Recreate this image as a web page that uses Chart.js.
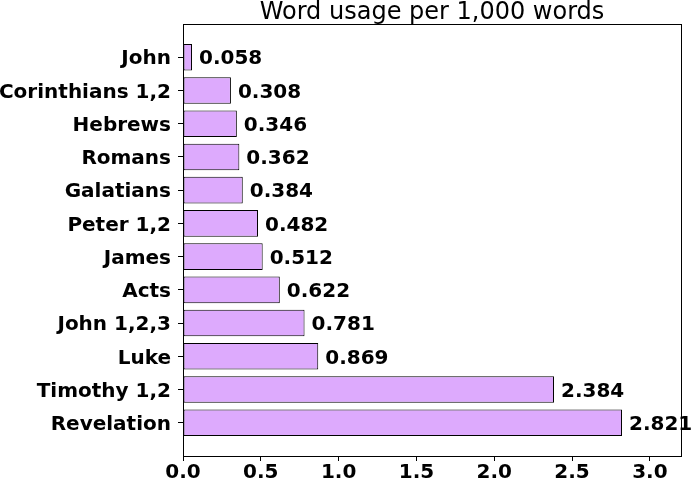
<!DOCTYPE html>
<html>
<head>
<meta charset="utf-8">
<script src="https://cdn.jsdelivr.net/npm/chart.js@4/dist/chart.umd.min.js"></script>
<style>
  html, body { margin: 0; padding: 0; background: #fff; }
</style>
</head>
<body>
<canvas id="usageChart" width="691" height="486"></canvas>
<script>
// books, top to bottom
var books = ['John', 'Corinthians 1,2', 'Hebrews', 'Romans', 'Galatians', 'Peter 1,2',
             'James', 'Acts', 'John 1,2,3', 'Luke', 'Timothy 1,2', 'Revelation'];
var usage = [0.058, 0.308, 0.346, 0.362, 0.384, 0.482, 0.512, 0.622, 0.781, 0.869, 2.384, 2.821];
var xTicks = [0.0, 0.5, 1.0, 1.5, 2.0, 2.5, 3.0];
var xMax = 3.2;

// blank rows above and below give a full row of space at each end
var rows = [''].concat(books, ['']);
var rowValues = [null].concat(usage, [null]);

var FONT = 'DejaVu Sans';

// frame around the plot, title over the plot, numbers at the bar ends
var extras = {
  id: 'extras',
  afterDatasetsDraw: function (chart) {
    var ctx = chart.ctx;
    var meta = chart.getDatasetMeta(0);
    ctx.save();
    ctx.font = 'bold 20px ' + FONT;
    ctx.fillStyle = '#000';
    ctx.textAlign = 'left';
    ctx.textBaseline = 'middle';
    meta.data.forEach(function (bar, i) {
      var v = rowValues[i];
      if (v === null) return;
      ctx.fillText(v.toFixed(3), bar.x + 7, bar.y + 2);
    });
    ctx.restore();
  },
  afterDraw: function (chart) {
    var ctx = chart.ctx;
    var area = chart.chartArea;
    ctx.save();
    ctx.strokeStyle = '#000';
    ctx.lineWidth = 1;
    ctx.strokeRect(Math.round(area.left) + 0.5, Math.round(area.top) + 0.5,
                   Math.round(area.right - area.left), Math.round(area.bottom - area.top));
    ctx.font = '24px ' + FONT;
    ctx.fillStyle = '#000';
    ctx.textAlign = 'center';
    ctx.textBaseline = 'alphabetic';
    ctx.fillText('Word usage per 1,000 words', (area.left + area.right) / 2, area.top - 5);
    ctx.restore();
  }
};

new Chart(document.getElementById('usageChart').getContext('2d'), {
  type: 'bar',
  data: {
    labels: rows,
    datasets: [{
      data: rowValues,
      backgroundColor: 'rgb(221, 170, 253)',
      borderColor: '#000',
      borderWidth: 1,
      borderSkipped: false,
      categoryPercentage: 0.8,
      barPercentage: 1.0
    }]
  },
  options: {
    indexAxis: 'y',
    responsive: false,
    animation: false,
    layout: { padding: { top: 24, right: 10, bottom: 0, left: 0 } },
    plugins: {
      legend: { display: false },
      title: { display: false },
      tooltip: { enabled: false }
    },
    scales: {
      x: {
        type: 'linear',
        min: 0,
        max: xMax,
        afterBuildTicks: function (scale) {
          scale.ticks = xTicks.map(function (v) { return { value: v }; });
        },
        afterFit: function (scale) { scale.height = 30; },
        ticks: {
          color: '#000',
          font: { family: FONT, size: 20, weight: 'bold' },
          padding: 0,
          callback: function (v) { return Number(v).toFixed(1); }
        },
        grid: {
          drawOnChartArea: false,
          drawTicks: true,
          tickLength: 5,
          tickColor: '#000'
        },
        border: { color: '#000' }
      },
      y: {
        type: 'category',
        offset: false,
        afterFit: function (scale) { scale.width = 183; },
        ticks: {
          color: '#000',
          font: { family: FONT, size: 20, weight: 'bold' },
          padding: 7,
          labelOffset: 2,
          autoSkip: false
        },
        grid: {
          offset: false,
          drawOnChartArea: false,
          drawTicks: true,
          tickLength: 5,
          tickColor: function (c) {
            return rows[c.index] === '' ? 'rgba(0,0,0,0)' : '#000';
          }
        },
        border: { color: '#000' }
      }
    }
  },
  plugins: [extras]
});
</script>
</body>
</html>
